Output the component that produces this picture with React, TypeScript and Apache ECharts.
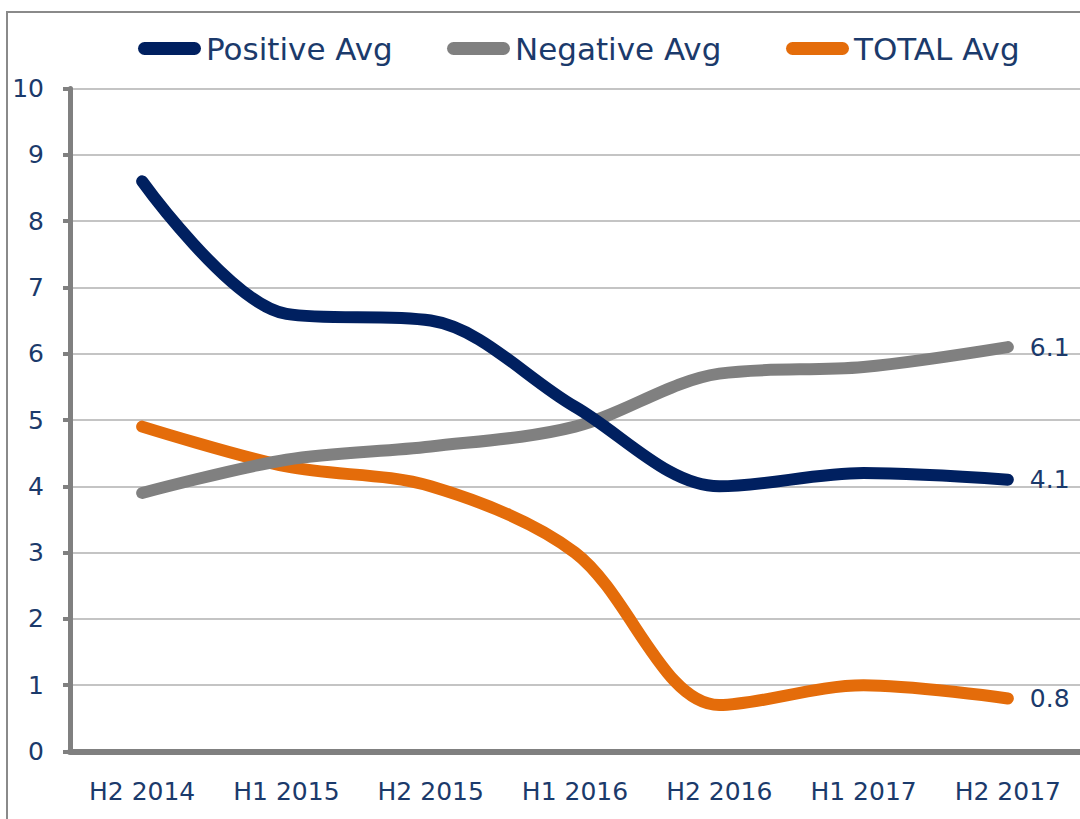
import React, { useEffect, useRef } from "react";
import * as echarts from "echarts";

const categories = ["H2 2014", "H1 2015", "H2 2015", "H1 2016", "H2 2016", "H1 2017", "H2 2017"];
const positiveAvg = [8.6, 6.6, 6.5, 5.2, 4.0, 4.2, 4.1];
const negativeAvg = [3.9, 4.4, 4.6, 4.9, 5.7, 5.8, 6.1];
const totalAvg = [4.9, 4.3, 4.0, 3.0, 0.7, 1.0, 0.8];
const seriesNames = ["Positive Avg", "Negative Avg", "TOTAL Avg"];
const seriesColors = ["#002060", "#808080", "#E46C0A"];
const legendLefts = [133, 442, 781];

const TEXT = "#1B3A6B";
const FONT = "DejaVu Sans";
const PILL = "path://M6.5,0 L56.5,0 A6.5,6.5 0 0 1 56.5,13 L6.5,13 A6.5,6.5 0 0 1 6.5,0 Z";

export default function App() {
  const ref = useRef<HTMLDivElement>(null);
  useEffect(() => {
    if (!ref.current) return;
    const chart = echarts.init(ref.current, undefined, { renderer: "svg" });
    const datasets = [positiveAvg, negativeAvg, totalAvg];
    chart.setOption({
      animation: false,
      backgroundColor: "#ffffff",
      textStyle: { fontFamily: FONT },
      graphic: [
        {
          type: "rect",
          shape: { x: 7, y: 12, width: 1200, height: 900 },
          style: { fill: "none", stroke: "#8A8A8A", lineWidth: 2 },
          silent: true,
          z: -10,
        },
      ],
      legend: seriesNames.map((name, i) => ({
        left: legendLefts[i],
        top: 28,
        itemWidth: 63,
        itemHeight: 13,
        icon: PILL,
        textStyle: { color: TEXT, fontSize: 31, fontFamily: FONT },
        data: [name],
      })),
      grid: { left: 70, right: 0, top: 88.5, bottom: 67.5, containLabel: false },
      xAxis: {
        type: "category",
        data: categories,
        boundaryGap: true,
        axisLine: { show: true, lineStyle: { color: "#808080", width: 6 } },
        axisTick: { show: false },
        axisLabel: { color: TEXT, fontSize: 25, fontFamily: FONT, margin: 27 },
        splitLine: { show: false },
      },
      yAxis: {
        type: "value",
        min: 0,
        max: 10,
        interval: 1,
        axisLine: { show: true, lineStyle: { color: "#808080", width: 5 } },
        axisTick: { show: true, length: 7, lineStyle: { color: "#808080", width: 4 } },
        axisLabel: { color: TEXT, fontSize: 25, fontFamily: FONT, margin: 26 },
        splitLine: { show: true, lineStyle: { color: "#C4C4C4", width: 2 } },
      },
      series: seriesNames.map((name, i) => ({
        name,
        type: "line",
        data: datasets[i],
        smooth: 0.33,
        showSymbol: false,
        symbol: "none",
        color: seriesColors[i],
        itemStyle: { color: seriesColors[i] },
        lineStyle: { color: seriesColors[i], width: 12, cap: "round", join: "round" },
        endLabel: {
          show: true,
          formatter: (p: any) => Number(p.value).toFixed(1),
          color: TEXT,
          fontSize: 25,
          fontFamily: FONT,
          distance: 22,
        },
        z: 3 - i,
      })),
    });
    return () => chart.dispose();
  }, []);
  return (
    <div
      ref={ref}
      style={{ position: "fixed", left: 0, top: 0, width: 1080, height: 819 }}
    />
  );
}
